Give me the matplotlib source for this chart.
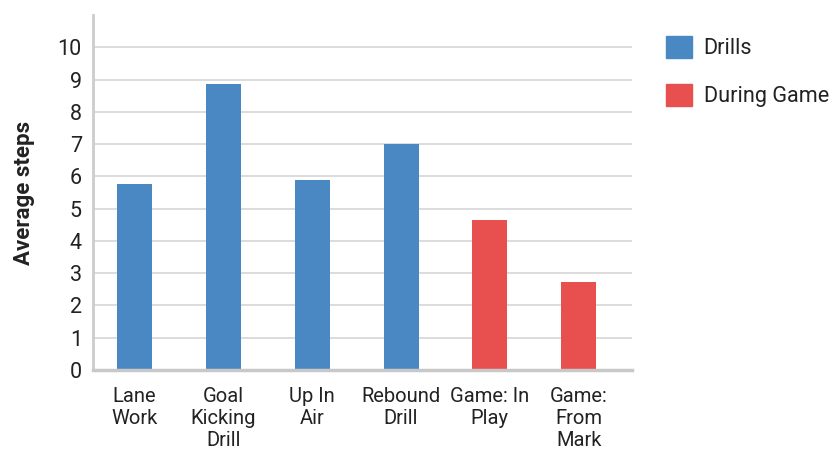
import matplotlib
matplotlib.use('Agg')
import matplotlib.pyplot as plt
from matplotlib.patches import Patch

categories = ['Lane\nWork', 'Goal\nKicking\nDrill', 'Up In\nAir', 'Rebound\nDrill',
              'Game: In\nPlay', 'Game:\nFrom\nMark']
steps = [5.75, 8.85, 5.9, 7.0, 4.65, 2.72]
groups = ['Drills', 'Drills', 'Drills', 'Drills', 'During Game', 'During Game']
color = {'Drills': '#4a88c4', 'During Game': '#e84f4f'}
yticks = list(range(0, 11))

plt.rcParams['font.family'] = ['Roboto', 'DejaVu Sans']
txt = '#222222'

fig = plt.figure(figsize=(8.33, 4.54), dpi=100)
ax = fig.add_axes([93/833, 1 - 370/454, (632 - 93)/833, (370 - 15)/454])

x = list(range(len(categories)))
ax.bar(x, steps, width=0.394, color=[color[g] for g in groups], zorder=2)

ax.set_xlim(-0.467, 5.6)
ax.set_ylim(0, 11)
ax.set_yticks(yticks)
ax.set_yticklabels([str(t) for t in yticks], fontsize=15.5, color=txt)
ax.set_xticks(x)
ax.set_xticklabels(categories, fontsize=14.5, color=txt, linespacing=1.2)
ax.tick_params(length=0)
ax.tick_params(axis='y', pad=8)
ax.tick_params(axis='x', pad=12)

for t in yticks[1:]:
    ax.axhline(t, color='#d9d9d9', lw=1.3, zorder=1)

for s in ['top', 'right']:
    ax.spines[s].set_visible(False)
ax.spines['left'].set_color('#cccccc')
ax.spines['left'].set_linewidth(2)
ax.spines['bottom'].set_color('#c8c8c8')
ax.spines['bottom'].set_linewidth(2.5)

ax.set_ylabel('Average steps', fontsize=16, fontweight='bold', color=txt, labelpad=10)
ax.yaxis.set_label_coords(-58/539, 0.5)

handles = [Patch(color=color['Drills']), Patch(color=color['During Game'])]
fig.legend(handles, ['Drills', 'During Game'], loc='upper left',
           bbox_to_anchor=(657/833, 1 - 27/454), frameon=False, borderaxespad=0,
           fontsize=15.6, handlelength=1.2, handleheight=1.2,
           labelspacing=1.15, handletextpad=0.55, labelcolor=txt)

plt.savefig('out.png', dpi=100)
